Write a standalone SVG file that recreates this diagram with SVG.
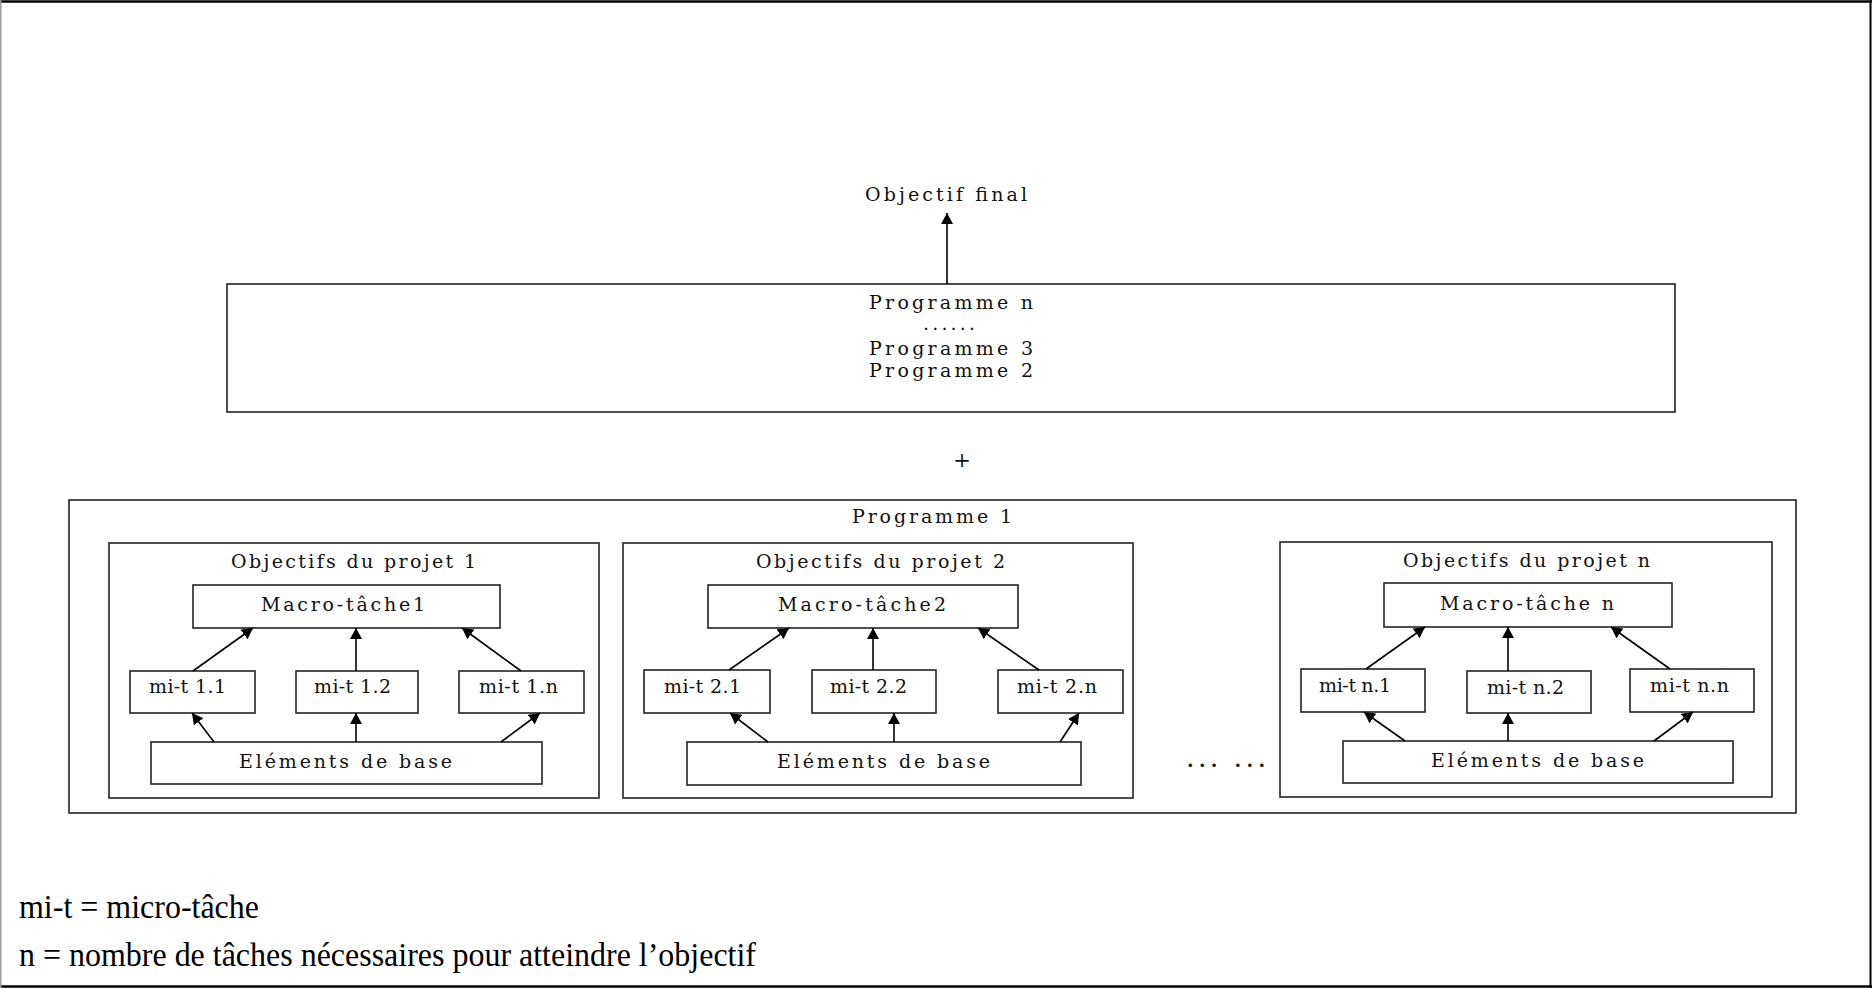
<svg xmlns="http://www.w3.org/2000/svg" width="1872" height="988" viewBox="0 0 1872 988">
<defs>
<marker id="ah" markerUnits="userSpaceOnUse" markerWidth="12" markerHeight="12" refX="11" refY="6" orient="auto">
<path d="M0,0 L11,6 L0,12 z" fill="#000"/>
</marker>
<style>
.box{fill:#fff;stroke:#222;stroke-width:1.6}
.t{font-family:"DejaVu Serif","Liberation Serif",serif;font-size:19px;fill:#111}
.leg{font-family:"Liberation Serif","Times New Roman",serif;font-size:33px;fill:#000}
.c{stroke:#000;stroke-width:1.6;fill:none;marker-end:url(#ah)}
</style>
</defs>
<rect x="0" y="0" width="1872" height="988" fill="#fff"/>
<g id="frame">
<line x1="0" y1="1.5" x2="1872" y2="1.5" stroke="#000" stroke-width="2.5"/>
<line x1="0" y1="986.5" x2="1872" y2="986.5" stroke="#000" stroke-width="2.5"/>
<line x1="0.8" y1="0" x2="0.8" y2="988" stroke="#999" stroke-width="1.5"/>
<line x1="1870.5" y1="0" x2="1870.5" y2="988" stroke="#000" stroke-width="2"/>
</g>

<g id="objectif-final">
<text class="t" x="865" y="201" textLength="162">Objectif final</text>
</g>

<g id="programmes">
<rect class="box" x="227" y="284" width="1448" height="128"/>
<text class="t" x="869" y="309" textLength="164">Programme n</text>
<text class="t" x="923" y="330" textLength="52">......</text>
<text class="t" x="869" y="355" textLength="164">Programme 3</text>
<text class="t" x="869" y="377" textLength="164">Programme 2</text>
</g>

<g id="plus">
<text class="t" x="962" y="467" text-anchor="middle" style="font-size:21px">+</text>
</g>

<g id="programme1">
<rect class="box" x="69" y="500" width="1727" height="313"/>
<text class="t" x="852" y="523" textLength="160">Programme 1</text>
</g>

<g id="projet1">
<rect class="box" x="109" y="543" width="490" height="255"/>
<text class="t" x="231" y="568" textLength="245">Objectifs du projet 1</text>
</g>
<g id="macro1">
<rect class="box" x="193" y="585" width="307" height="43"/>
<text class="t" x="261" y="611" textLength="164">Macro-tâche1</text>
</g>
<g id="mit11">
<rect class="box" x="130" y="671" width="125" height="42"/>
<text class="t" x="149" y="693" textLength="77">mi-t 1.1</text>
</g>
<g id="mit12">
<rect class="box" x="296" y="671" width="122" height="42"/>
<text class="t" x="314" y="693" textLength="77">mi-t 1.2</text>
</g>
<g id="mit1n">
<rect class="box" x="459" y="671" width="125" height="42"/>
<text class="t" x="479" y="693" textLength="79">mi-t 1.n</text>
</g>
<g id="base1">
<rect class="box" x="151" y="742" width="391" height="42"/>
<text class="t" x="239" y="768" textLength="213">Eléments de base</text>
</g>

<g id="projet2">
<rect class="box" x="623" y="543" width="510" height="255"/>
<text class="t" x="756" y="568" textLength="249">Objectifs du projet 2</text>
</g>
<g id="macro2">
<rect class="box" x="708" y="585" width="310" height="43"/>
<text class="t" x="778" y="611" textLength="168">Macro-tâche2</text>
</g>
<g id="mit21">
<rect class="box" x="644" y="670" width="126" height="43"/>
<text class="t" x="664" y="693" textLength="77">mi-t 2.1</text>
</g>
<g id="mit22">
<rect class="box" x="812" y="670" width="124" height="43"/>
<text class="t" x="830" y="693" textLength="77">mi-t 2.2</text>
</g>
<g id="mit2n">
<rect class="box" x="998" y="670" width="125" height="43"/>
<text class="t" x="1017" y="693" textLength="80">mi-t 2.n</text>
</g>
<g id="base2">
<rect class="box" x="687" y="742" width="394" height="43"/>
<text class="t" x="777" y="768" textLength="213">Eléments de base</text>
</g>

<g id="ellipsis">
<text class="t" x="1187" y="767" textLength="78" font-weight="bold">... ...</text>
</g>

<g id="projetn">
<rect class="box" x="1280" y="542" width="492" height="255"/>
<text class="t" x="1403" y="567" textLength="247">Objectifs du projet n</text>
</g>
<g id="macron">
<rect class="box" x="1384" y="583" width="288" height="44"/>
<text class="t" x="1440" y="610" textLength="174">Macro-tâche n</text>
</g>
<g id="mitn1">
<rect class="box" x="1301" y="669" width="124" height="43"/>
<text class="t" x="1319" y="692" textLength="72">mi-t n.1</text>
</g>
<g id="mitn2">
<rect class="box" x="1467" y="671" width="124" height="42"/>
<text class="t" x="1487" y="694" textLength="77">mi-t n.2</text>
</g>
<g id="mitnn">
<rect class="box" x="1630" y="669" width="124" height="43"/>
<text class="t" x="1650" y="692" textLength="79">mi-t n.n</text>
</g>
<g id="basen">
<rect class="box" x="1343" y="741" width="390" height="42"/>
<text class="t" x="1431" y="767" textLength="213">Eléments de base</text>
</g>

<g id="connectors">
<line class="c" x1="947" y1="284" x2="947" y2="213"/>
<line class="c" x1="193" y1="671" x2="253" y2="628"/>
<line class="c" x1="356" y1="671" x2="356" y2="628"/>
<line class="c" x1="521" y1="671" x2="462" y2="628"/>
<line class="c" x1="214" y1="742" x2="192" y2="713"/>
<line class="c" x1="356" y1="742" x2="356" y2="713"/>
<line class="c" x1="501" y1="742" x2="540" y2="713"/>
<line class="c" x1="729" y1="670" x2="789" y2="628"/>
<line class="c" x1="873" y1="670" x2="873" y2="628"/>
<line class="c" x1="1039" y1="670" x2="978" y2="628"/>
<line class="c" x1="768" y1="742" x2="730" y2="713"/>
<line class="c" x1="894" y1="742" x2="894" y2="713"/>
<line class="c" x1="1060" y1="742" x2="1079" y2="713"/>
<line class="c" x1="1366" y1="669" x2="1425" y2="627"/>
<line class="c" x1="1508" y1="671" x2="1508" y2="627"/>
<line class="c" x1="1670" y1="669" x2="1611" y2="627"/>
<line class="c" x1="1405" y1="741" x2="1364" y2="712"/>
<line class="c" x1="1508" y1="741" x2="1508" y2="713"/>
<line class="c" x1="1654" y1="741" x2="1693" y2="712"/>
</g>

<g id="legend">
<text class="leg" x="19" y="918" textLength="240" lengthAdjust="spacingAndGlyphs">mi-t = micro-tâche</text>
<text class="leg" x="19" y="966" textLength="737" lengthAdjust="spacingAndGlyphs">n = nombre de tâches nécessaires pour atteindre l’objectif</text>
</g>
</svg>
